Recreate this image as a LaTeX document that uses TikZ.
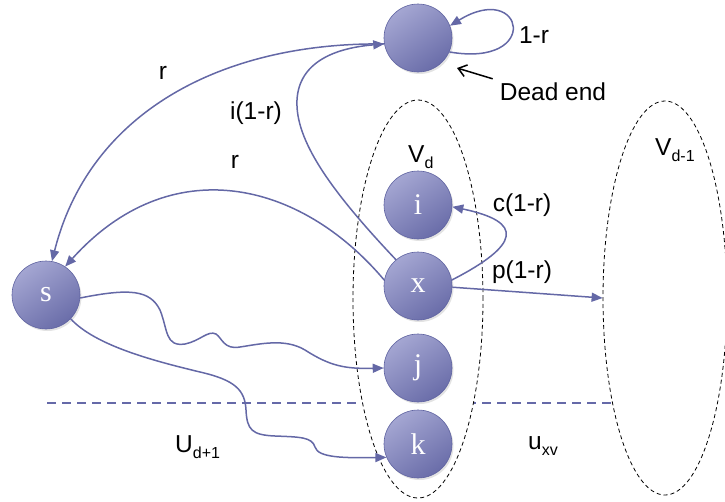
\documentclass[tikz,border=0pt]{standalone}
\usepackage{fontspec}
\setmainfont{Liberation Serif}
\setsansfont{Liberation Sans}
\usetikzlibrary{shapes.geometric,arrows.meta,shadows}

\definecolor{edgeblue}{HTML}{6468A6}
\definecolor{nodelight}{HTML}{A4A6D2}
\definecolor{nodedark}{HTML}{6A6DA9}
\definecolor{nodeborder}{HTML}{5E62A0}
\definecolor{layerline}{HTML}{6569A8}

% subscript set lower and smaller, as in slide-style labels
\newcommand\lowsub[1]{\raisebox{-0.28em}{\fontsize{16}{16}\selectfont #1}}

\begin{document}
\begin{tikzpicture}[x=1pt,y=-1pt,
  vert/.style={circle, minimum size=68pt, inner sep=0pt,
    draw=nodeborder, line width=0.6pt,
    top color=nodelight, bottom color=nodedark, shading angle=35,
    drop shadow={opacity=0.22, shadow xshift=1.5pt, shadow yshift=-2pt},
    text=white, font=\fontsize{30}{30}\selectfont},
  layer/.style={ellipse, draw=black, dashed, dash pattern=on 4pt off 3pt,
    line width=0.8pt, fill=white, inner sep=0pt},
  link/.style={draw=edgeblue, line width=1.5pt,
    -{Triangle[length=11pt,width=9pt]}},
  lbl/.style={font=\sffamily\fontsize{24.5}{24.5}\selectfont, inner sep=0pt, text=black},
]
\useasboundingbox (0,0) rectangle (725,501);

% boundary between layers
\coordinate (hl) at (47,403);
\coordinate (hr) at (615,403);
\draw[layerline, line width=2pt, dash pattern=on 9pt off 6pt] (hl) -- (hr);

% the two distance layers
\node[layer, minimum width=130pt, minimum height=398pt] (vd) at (418,299) {};
\node[layer, minimum width=124pt, minimum height=394pt] (vdm) at (665,298) {};

% vertices
\node[vert] (top) at (418,38) {};
\node[vert] (s) at (46,295) {s};
\node[vert] (i) at (418,205) {i};
\node[vert] (x) at (418,286) {x};
\node[vert] (j) at (418,368) {j};
\node[vert] (k) at (418,444) {k};

% teleport from the dead end back to s
\draw[link] (top.190) .. controls (225,42) and (90,110) .. (s.80);
% x to the dead end
\draw[link] (x.130) .. controls (330,190) and (295,140) .. (297,100)
  .. controls (299,62) and (335,48) .. (top.190);
% teleport from x to s
\draw[link] (x.170) .. controls (300,180) and (170,150) .. (s.56);
% self loop at the dead end
\draw[link] (top.336) .. controls (542,68) and (524,-20) .. (top.21);
% x to its child i
\draw[link] (x.10) .. controls (520,245) and (525,222) .. (i.357);
% x to the parent layer
\draw[link] (x.358) -- (vdm.west);

% walks from s down into the layer
\draw[link] (s.355) .. controls (130,288) and (150,290) .. (160,310)
  .. controls (168,330) and (165,347) .. (185,344)
  .. controls (200,341) and (208,330) .. (216,334)
  .. controls (222,338) and (224,350) .. (240,347)
  .. controls (260,344) and (285,338) .. (305,350)
  .. controls (330,366) and (345,369) .. (j.180);
\draw[link] (s.316) .. controls (95,345) and (150,360) .. (200,372)
  .. controls (235,380) and (245,390) .. (246,410)
  .. controls (247,430) and (252,435) .. (275,436)
  .. controls (300,437) and (312,437) .. (315,447)
  .. controls (318,458) and (345,458) .. (k.203);

% transition probabilities
\node[lbl] (lloop) at (534,35) {1-r};
\node[lbl, anchor=base] (lr1) at (163,79) {r};
\node[lbl] (li) at (256,113) {i(1-r)};
\node[lbl, anchor=base] (lr2) at (235,168) {r};
\node[lbl] (lc) at (522,205) {c(1-r)};
\node[lbl] (lp) at (522,272) {p(1-r)};

% dead-end callout
\node[lbl] (dead) at (553,92) {Dead end};
\coordinate (deadtip) at (457,68);
\draw[black, line width=1.5pt, -{Straight Barb[length=8pt,width=12pt]}]
  (dead.north west) ++(-7,-4) coordinate (deadtail) (deadtail) -- (deadtip);

% layer names
\node[lbl, anchor=base west] (lvd) at (408,162) {V\lowsub{d}};
\node[lbl, anchor=base west] (lvdm) at (655,155) {V\lowsub{d-1}};
\node[lbl, anchor=base west] (lu) at (175,452) {U\lowsub{d+1}};
\node[lbl, anchor=base west] (lux) at (528,449) {u\lowsub{xv}};
\end{tikzpicture}
\end{document}
